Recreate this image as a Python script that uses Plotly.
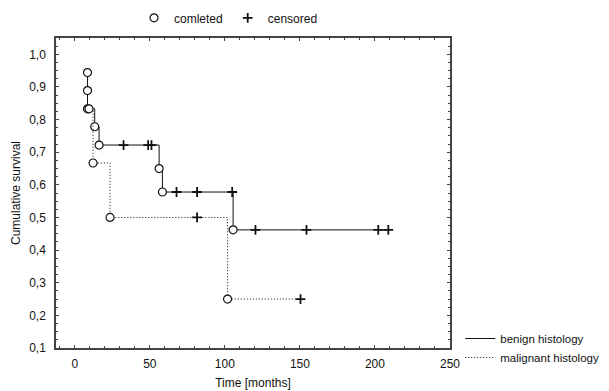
import plotly.graph_objects as go

# Benign histology (solid) - Kaplan-Meier steps
benign_time = [8.5, 8.5, 8.5, 13.3, 16.2, 32.5, 48.9, 51.1, 56.2, 58.4,
               67.8, 81.5, 104.9, 105.5, 120.4, 154.4, 202.2, 208.9]
benign_surv = [0.944, 0.889, 0.833, 0.778, 0.722, 0.722, 0.722, 0.722, 0.650, 0.578,
               0.578, 0.578, 0.578, 0.462, 0.462, 0.462, 0.462, 0.462]
benign_censored = [0, 0, 0, 0, 0, 1, 1, 1, 0, 0, 1, 1, 1, 0, 1, 1, 1, 1]

# Malignant histology (dotted)
malig_time = [9.5, 12.2, 23.5, 81.5, 101.8, 150.4]
malig_surv = [0.833, 0.667, 0.500, 0.500, 0.250, 0.250]
malig_censored = [0, 0, 0, 1, 0, 1]

y_ticks = [0.1, 0.2, 0.3, 0.4, 0.5, 0.6, 0.7, 0.8, 0.9, 1.0]
x_ticks = [0, 50, 100, 150, 200, 250]

FONT = "Liberation Sans"
BLACK = "#111111"

CIRCLE = dict(symbol="circle", size=8, color="white", line=dict(color=BLACK, width=1.2))
CROSS = dict(symbol="cross-thin-open", size=7, color=BLACK, line=dict(color=BLACK, width=1.8))

fig = go.Figure()


def add_series(t, s, c, dash, name):
    fig.add_trace(go.Scatter(x=t, y=s, mode="lines", line=dict(color=BLACK, width=1, dash=dash, shape="hv"),
                             name=name, legend="legend2", showlegend=True, hoverinfo="skip"))
    ex = [a for a, f in zip(t, c) if f == 0]
    ey = [b for b, f in zip(s, c) if f == 0]
    cx = [a for a, f in zip(t, c) if f == 1]
    cy = [b for b, f in zip(s, c) if f == 1]
    fig.add_trace(go.Scatter(x=ex, y=ey, mode="markers", marker=CIRCLE, showlegend=False))
    fig.add_trace(go.Scatter(x=cx, y=cy, mode="markers", marker=CROSS, showlegend=False))


add_series(benign_time, benign_surv, benign_censored, "solid", "benign histology")
add_series(malig_time, malig_surv, malig_censored, "1px,2px", "malignant histology")

# Top legend marker entries
fig.add_trace(go.Scatter(x=[None], y=[None], mode="markers", name="comleted", marker=CIRCLE, legend="legend"))
fig.add_trace(go.Scatter(x=[None], y=[None], mode="markers", name="censored", marker=CROSS, legend="legend"))

axis_common = dict(showline=True, mirror="ticks", linecolor="#444444", linewidth=1.5,
                   ticks="inside", ticklen=3, tickcolor="#444444", showgrid=False, zeroline=False,
                   automargin=False,
                   tickfont=dict(family=FONT, size=12, color=BLACK))

fig.update_xaxes(range=[-12.5, 250], tickvals=x_ticks, ticktext=[str(v) for v in x_ticks],
                 minor=dict(dtick=10, tick0=0, ticks="inside", ticklen=2, tickcolor="#444444"),
                 ticklabelstandoff=4,
                 title=dict(text="Time [months]", font=dict(family=FONT, size=12, color=BLACK), standoff=8),
                 **axis_common)
fig.update_yaxes(range=[0.1, 1.05], tickvals=y_ticks, tickformat=".1f",
                 minor=dict(dtick=0.025, tick0=0.1, ticks="inside", ticklen=2, tickcolor="#444444"),
                 ticklabelstandoff=6,
                 title=dict(text="Cumulative survival", font=dict(family=FONT, size=12, color=BLACK), standoff=6),
                 **axis_common)

fig.update_layout(
    width=601, height=383,
    margin=dict(l=48, r=159, t=30, b=43, autoexpand=False),
    paper_bgcolor="white", plot_bgcolor="white",
    separators=", ",
    font=dict(family=FONT, size=12, color=BLACK),
    legend=dict(orientation="h", x=0.198, y=1.065, xanchor="left", yanchor="middle",
                font=dict(family=FONT, size=12, color=BLACK), itemwidth=30, bgcolor="rgba(0,0,0,0)"),
    legend2=dict(orientation="v", x=1.026, y=0.0, xanchor="left", yanchor="middle",
                 font=dict(family=FONT, size=11.5, color=BLACK), itemwidth=30, bgcolor="rgba(0,0,0,0)",
                 tracegroupgap=0),
)

fig.write_html("out.html")
